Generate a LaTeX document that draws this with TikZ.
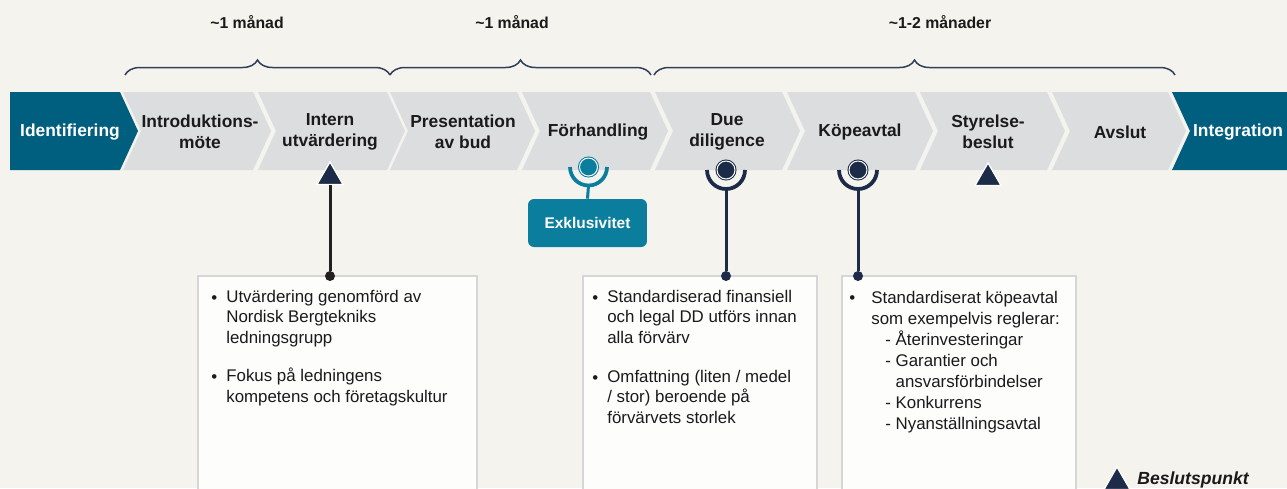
\documentclass[tikz,border=0pt]{standalone}
\usepackage{fontspec}
\setmainfont{Liberation Sans}
\usetikzlibrary{shapes.geometric,decorations.pathreplacing}
\definecolor{bgcream}{HTML}{F5F3EE}
\definecolor{phasedark}{HTML}{005E7E}
\definecolor{phasegrey}{HTML}{DCDDDF}
\definecolor{navy}{HTML}{1B2B48}
\definecolor{tealmark}{HTML}{0B7E9E}
\definecolor{ink}{HTML}{1A1A1A}
\definecolor{stemdark}{HTML}{231F20}
\definecolor{bracecol}{HTML}{2E3F58}
\definecolor{boxline}{HTML}{D6D6D6}
\definecolor{boxfill}{HTML}{FDFDFC}
\tikzset{
  phaselabel/.style={font=\fontsize{9.9}{11.9}\selectfont\bfseries, text=ink, align=center, inner sep=0pt},
  endlabel/.style={phaselabel, text=white},
  span/.style={draw=bracecol, line width=0.3mm, decorate, decoration={brace, amplitude=3mm}},
  spanlabel/.style={font=\fontsize{9}{11}\selectfont\bfseries, text=ink, inner sep=0pt},
  decision/.style={regular polygon, regular polygon sides=3, minimum size=6mm, inner sep=0pt, fill=navy, draw=white, line width=0.25mm},
  ring/.style={circle, minimum size=3.6mm, inner sep=0pt, fill=#1, draw=#1, double=white, double distance=0.2mm, line width=0.2mm},
  cup/.style={draw=#1, line width=0.75mm},
  stem/.style={draw=#1, line width=0.6mm},
  pin/.style={circle, fill=#1, minimum size=2mm, inner sep=0pt},
  notebox/.style={draw=boxline, fill=boxfill, line width=0.25mm},
  note/.style={font=\fontsize{9.6}{11.4}\selectfont, text=ink, align=left, inner sep=0pt, anchor=base west},
  subnote/.style={note, font=\fontsize{9.6}{11.9}\selectfont},
  tag/.style={rounded corners=1.2mm, fill=tealmark, minimum width=23.8mm, minimum height=9.6mm, text=white, font=\fontsize{8.8}{10}\selectfont\bfseries}
}
\begin{document}
\begin{tikzpicture}[x=0.02cm, y=-0.02cm]
  \useasboundingbox (0,0) rectangle (1287,488);
  \fill[bgcream] (0,0) rectangle (1287,488);

  % phase bar
  \fill[phasedark] (10,92) -- (120,92) -- (138,131) -- (120,170) -- (10,170) -- cycle;
  \fill[phasedark] (1172,92) -- (1287,92) -- (1287,170) -- (1172,170) -- (1190,131) -- cycle;
  \foreach \xl/\xr in {123/253, 258/387, 390/517, 522/650, 655/782, 787/915, 920/1047, 1052/1168}
    \fill[phasegrey] (\xl,92) -- (\xr,92) -- (\xr+18,131) -- (\xr,170) -- (\xl,170) -- (\xl+18,131) -- cycle;

  \node[endlabel] (ident) at (70,132) {Identifiering};
  \node[endlabel] (integ) at (1238,132) {Integration};
  \foreach \cx/\id/\txt in {200/intro/{Introduktions-\\möte}, 330/intern/{Intern\\utvärdering},
      463/bud/{Presentation\\av bud}, 598/forh/{Förhandling}, 727/dd/{Due\\diligence},
      860/kop/{Köpeavtal}, 988/styr/{Styrelse-\\beslut}, 1120/avsl/{Avslut}}
    \node[phaselabel] (\id) at (\cx,132) {\txt};

  % durations
  \draw[span] (125,75) -- (390,75);
  \draw[span] (390,75) -- (651,75);
  \draw[span] (654,75) -- (1175,75);
  \node[spanlabel] (dur1) at (247,22) {\textasciitilde1 månad};
  \node[spanlabel] (dur2) at (512,22) {\textasciitilde1 månad};
  \node[spanlabel] (dur3) at (940,22) {\textasciitilde1-2 månader};

  % note boxes
  \draw[notebox] (198,276) rectangle (477,520);
  \draw[notebox] (583,276) rectangle (817,520);
  \draw[notebox] (842,276) rectangle (1076,520);

  % base of a text node = baseline of its last line
  \node[note] (b1a) at (211,303) {•};
  \node[note] (t1a) at (226,343) {Utvärdering genomförd av\\Nordisk Bergtekniks\\ledningsgrupp};
  \node[note] (b1b) at (211,382) {•};
  \node[note] (t1b) at (226,402) {Fokus på ledningens\\kompetens och företagskultur};

  \node[note] (b2a) at (592,303) {•};
  \node[note] (t2a) at (607,343) {Standardiserad finansiell\\och legal DD utförs innan\\alla förvärv};
  \node[note] (b2b) at (592,383) {•};
  \node[note] (t2b) at (607,423) {Omfattning (liten / medel\\/ stor) beroende på\\förvärvets storlek};

  \node[subnote] (b3a) at (849,303) {•};
  \node[subnote] (t3a) at (871,324) {Standardiserat köpeavtal\\som exempelvis reglerar:};
  \node[subnote] (t3b) at (885,429) {- Återinvesteringar\\- Garantier och\\\phantom{- }ansvarsförbindelser\\- Konkurrens\\- Nyanställningsavtal};

  % markers
  \node[decision] (intdec) at (330,177) {};
  \node[decision] (styrdec) at (988,178) {};
  \node[pin=stemdark] (intpin) at (330,276) {};
  \draw[stem=stemdark] (intdec.south) -- (intpin);

  \node[ring=tealmark] (forhicon) at (588.5,167) {};
  \draw[cup=tealmark] ([xshift=-3.7mm]forhicon.center) arc[start angle=180, end angle=360, radius=3.7mm];
  \coordinate (forhcup) at (588.5,185.5);
  \node[tag] (exkl) at (587.5,223) {Exklusivitet};
  \draw[stem=tealmark] (forhcup) -- (exkl.north);

  \node[ring=navy] (ddicon) at (726,170) {};
  \draw[cup=navy] ([xshift=-3.8mm]ddicon.center) arc[start angle=180, end angle=360, radius=3.8mm];
  \coordinate (ddcup) at (726,189);
  \node[pin=navy] (ddpin) at (726,276) {};
  \draw[stem=navy] (ddcup) -- (ddpin);

  \node[ring=navy] (kopicon) at (858,170) {};
  \draw[cup=navy] ([xshift=-3.8mm]kopicon.center) arc[start angle=180, end angle=360, radius=3.8mm];
  \coordinate (kopcup) at (858,189);
  \node[pin=navy] (koppin) at (858,276) {};
  \draw[stem=navy] (kopcup) -- (koppin);

  % legend
  \node[decision] (legdec) at (1117,482) {};
  \node[note, font=\fontsize{10}{12}\selectfont\bfseries\itshape] (legtxt) at (1137,484) {Beslutspunkt};
\end{tikzpicture}
\end{document}
